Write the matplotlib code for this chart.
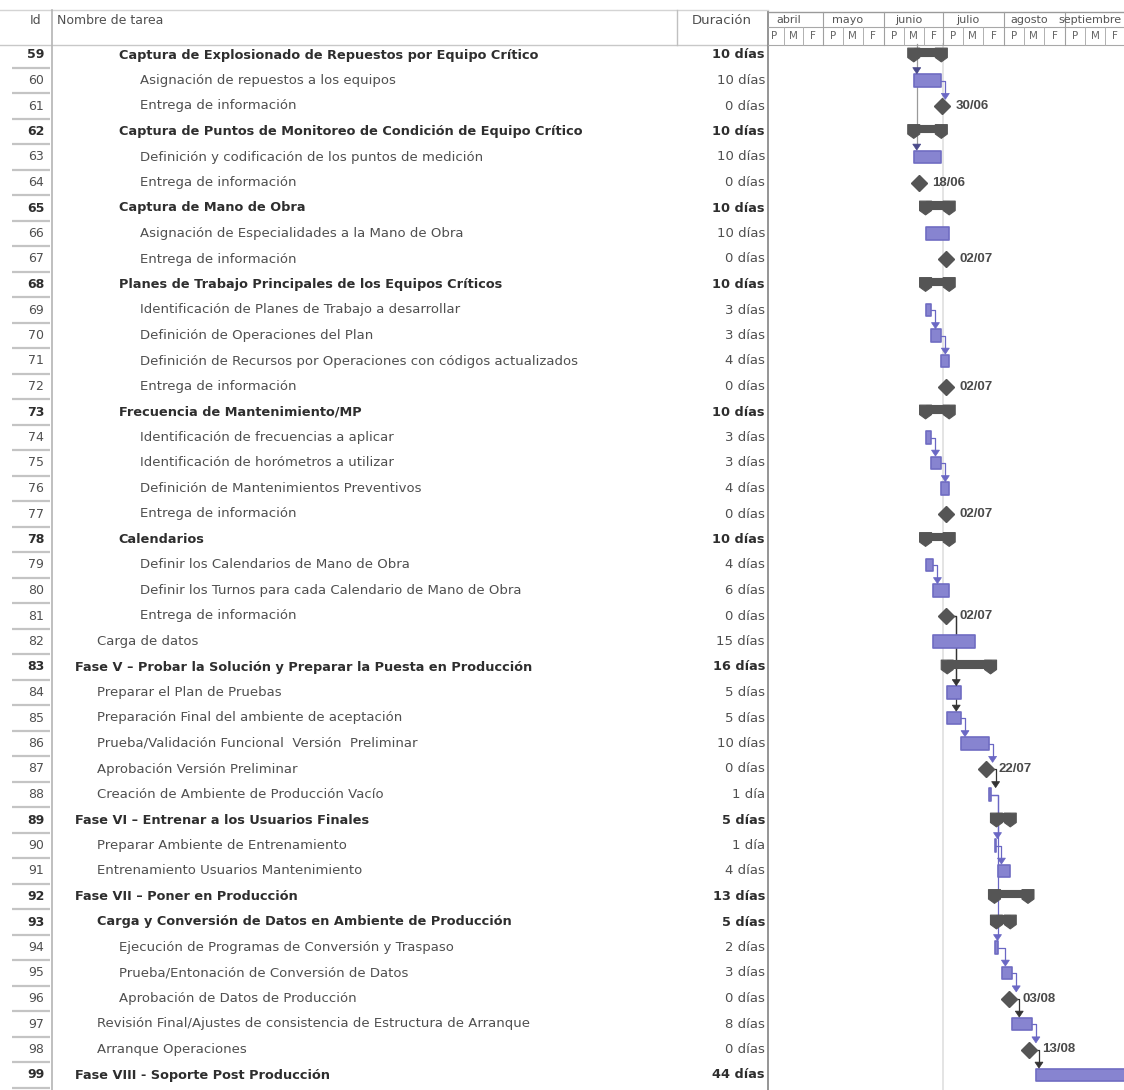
import datetime as dt
import numpy as np
import matplotlib
matplotlib.use("Agg")
import matplotlib.pyplot as plt
import matplotlib.dates as mdates
from matplotlib.patches import Polygon, Rectangle
from matplotlib.transforms import blended_transform_factory

plt.rcParams['font.family'] = ['DejaVu Sans']

# ---------------------------------------------------------------- data
task_ids = list(range(59, 100))
task_names = [
    "Captura de Explosionado de Repuestos por Equipo Crítico",
    "Asignación de repuestos a los equipos",
    "Entrega de información",
    "Captura de Puntos de Monitoreo de Condición de Equipo Crítico",
    "Definición y codificación de los puntos de medición",
    "Entrega de información",
    "Captura de Mano de Obra",
    "Asignación de Especialidades a la Mano de Obra",
    "Entrega de información",
    "Planes de Trabajo Principales de los Equipos Críticos",
    "Identificación de Planes de Trabajo a desarrollar",
    "Definición de Operaciones del Plan",
    "Definición de Recursos por Operaciones con códigos actualizados",
    "Entrega de información",
    "Frecuencia de Mantenimiento/MP",
    "Identificación de frecuencias a aplicar",
    "Identificación de horómetros a utilizar",
    "Definición de Mantenimientos Preventivos",
    "Entrega de información",
    "Calendarios",
    "Definir los Calendarios de Mano de Obra",
    "Definir los Turnos para cada Calendario de Mano de Obra",
    "Entrega de información",
    "Carga de datos",
    "Fase V – Probar la Solución y Preparar la Puesta en Producción",
    "Preparar el Plan de Pruebas",
    "Preparación Final del ambiente de aceptación",
    "Prueba/Validación Funcional  Versión  Preliminar",
    "Aprobación Versión Preliminar",
    "Creación de Ambiente de Producción Vacío",
    "Fase VI – Entrenar a los Usuarios Finales",
    "Preparar Ambiente de Entrenamiento",
    "Entrenamiento Usuarios Mantenimiento",
    "Fase VII – Poner en Producción",
    "Carga y Conversión de Datos en Ambiente de Producción",
    "Ejecución de Programas de Conversión y Traspaso",
    "Prueba/Entonación de Conversión de Datos",
    "Aprobación de Datos de Producción",
    "Revisión Final/Ajustes de consistencia de Estructura de Arranque",
    "Arranque Operaciones",
    "Fase VIII - Soporte Post Producción",
]
outline_level = [3, 4, 4, 3, 4, 4, 3, 4, 4, 3, 4, 4, 4, 4, 3, 4, 4, 4, 4, 3,
                 4, 4, 4, 2, 1, 2, 2, 2, 2, 2, 1, 2, 2, 1, 2, 3, 3, 3, 2, 2, 1]
bold_rows = [59, 62, 65, 68, 73, 78, 83, 89, 92, 93, 99]
duration_days = [10, 10, 0, 10, 10, 0, 10, 10, 0, 10, 3, 3, 4, 0, 10, 3, 3, 4, 0, 10,
                 4, 6, 0, 15, 16, 5, 5, 10, 0, 1, 5, 1, 4, 13, 5, 2, 3, 0, 8, 0, 44]
task_kind = ["sum", "task", "mile", "sum", "task", "mile", "sum", "task", "mile", "sum",
             "task", "task", "task", "mile", "sum", "task", "task", "task", "mile", "sum",
             "task", "task", "mile", "task", "sum", "task", "task", "task", "mile", "task",
             "sum", "task", "task", "sum", "sum", "task", "task", "mile", "task", "mile",
             "task"]
start_dates = [
    "2009-06-16", "2009-06-16", "2009-06-30", "2009-06-16", "2009-06-16", "2009-06-18",
    "2009-06-22", "2009-06-22", "2009-07-02", "2009-06-22", "2009-06-22", "2009-06-25",
    "2009-06-30", "2009-07-02", "2009-06-22", "2009-06-22", "2009-06-25", "2009-06-30",
    "2009-07-02", "2009-06-22", "2009-06-22", "2009-06-26", "2009-07-02", "2009-06-26",
    "2009-07-03", "2009-07-03", "2009-07-03", "2009-07-10", "2009-07-22", "2009-07-24",
    "2009-07-28", "2009-07-27", "2009-07-29", "2009-07-27", "2009-07-28", "2009-07-27",
    "2009-07-31", "2009-08-03", "2009-08-05", "2009-08-13", "2009-08-17",
]
# finish-to-start dependencies (predecessor id, successor id)
links = [(60, 61), (69, 70), (70, 71), (74, 75), (75, 76), (79, 80),
         (81, 84), (81, 85), (85, 86), (86, 87), (87, 88), (88, 90), (90, 91),
         (88, 94), (94, 95), (95, 96), (96, 97), (97, 98), (98, 99)]
# successors whose predecessor sits above the listed rows
external_pred = [60, 63]
month_names = ["abril", "mayo", "junio", "julio", "agosto", "septiembre"]
month_starts = ["2009-04-01", "2009-05-01", "2009-06-01", "2009-07-01",
                "2009-08-01", "2009-09-01", "2009-10-01"]
third_labels = ["P", "M", "F"]
status_date = "2009-07-01"

# ---------------------------------------------------------------- layout
W, H = 1124, 1090
ROW0, ROW_H = 55.0, 25.5
G_LEFT, G_TOP = 768, 10
ID_X, DUR_X = 36, 765
NAME_X0, INDENT = 75, 21.8
FS_REG, FS_BOLD = 9.5, 9.3

C_TEXT = "#4f4f4f"
C_BOLD = "#2e2e2e"
C_GRID = "#c4c4c4"
C_TASK = "#8784d0"
C_TASK_EDGE = "#6f6cc2"
C_SUM = "#555555"
C_MILE = "#555555"
C_LINK = "#6a67c4"

fig = plt.figure(figsize=(W / 100, H / 100), dpi=100)
ax = fig.add_axes([0, 0, 1, 1])
ax.set_xlim(0, W)
ax.set_ylim(H, 0)
ax.axis("off")

n = len(task_ids)
row_of = {tid: i for i, tid in enumerate(task_ids)}


def ypx(i):
    return ROW0 + ROW_H * i


# ---------------------------------------------------------------- table
ax.plot([0, G_LEFT], [10, 10], color="#d4d4d4", lw=1)
ax.plot([0, G_LEFT], [45, 45], color="#c8c8c8", lw=1)
ax.plot([52, 52], [10, H], color="#b4b4b4", lw=1.2)
ax.plot([677, 677], [10, 45], color="#c0c0c0", lw=1)
for k in range(n):
    yb = ypx(k) + ROW_H / 2
    ax.plot([12, 50], [yb, yb], color=C_GRID, lw=1.6, solid_capstyle="butt")

ax.text(ID_X, 20, "Id", ha="center", va="center", fontsize=9, color=C_TEXT)
ax.text(57, 20, "Nombre de tarea", ha="left", va="center", fontsize=9, color=C_TEXT)
ax.text(722, 20, "Duración", ha="center", va="center", fontsize=9.5, color=C_TEXT)

for i, tid in enumerate(task_ids):
    bold = tid in bold_rows
    weight = "bold" if bold else "normal"
    col = C_BOLD if bold else C_TEXT
    fs = FS_BOLD if bold else FS_REG
    y = ypx(i)
    ax.text(ID_X, y, str(tid), ha="center", va="center", fontsize=9,
            fontweight=weight, color=col)
    ax.text(NAME_X0 + INDENT * (outline_level[i] - 1), y, task_names[i],
            ha="left", va="center", fontsize=fs, fontweight=weight, color=col)
    d = duration_days[i]
    ax.text(DUR_X, y, f"{d} día" if d == 1 else f"{d} días", ha="right",
            va="center", fontsize=fs, fontweight=weight, color=col)

# ---------------------------------------------------------------- gantt axes
axg = fig.add_axes([G_LEFT / W, 0, (W - G_LEFT) / W, (H - G_TOP) / H])
axg.set_facecolor("none")
for s in axg.spines.values():
    s.set_visible(False)
axg.set_xticks([])
axg.set_yticks([])

x_left = mdates.date2num(dt.datetime(2009, 4, 3))
x_right = mdates.date2num(dt.datetime(2009, 9, 30, 18))
axg.set_xlim(x_left, x_right)
axg.set_ylim((H - ROW0) / ROW_H, (G_TOP - ROW0) / ROW_H)

DPX = (x_right - x_left) / (W - G_LEFT)   # days per pixel
RPX = 1.0 / ROW_H                         # rows per pixel

hdr = blended_transform_factory(axg.transData, ax.transData)

# timescale header
axg.plot([x_left, x_right], [12, 12], color="#9a9a9a", lw=1, transform=hdr)
axg.plot([x_left, x_right], [27, 27], color="#a8a8a8", lw=0.8, transform=hdr)
axg.plot([x_left, x_right], [45, 45], color="#a8a8a8", lw=0.8, transform=hdr)
ms = [mdates.date2num(dt.datetime.strptime(s, "%Y-%m-%d")) for s in month_starts]
for m, name in enumerate(month_names):
    a, b = ms[m], ms[m + 1]
    if a > x_left:
        axg.plot([a, a], [12, 45], color="#a0a0a0", lw=0.8, transform=hdr)
    axg.text(a + 12.5, 20, name, ha="center", va="center", fontsize=8,
             color="#555555", transform=hdr, clip_on=True)
    edges = [a, a + 10, a + 20, b]
    for t in range(3):
        if t > 0:
            axg.plot([edges[t], edges[t]], [27, 45], color="#b0b0b0", lw=0.7,
                     transform=hdr)
        cx = (edges[t] + edges[t + 1]) / 2
        if x_left < cx < x_right:
            axg.text(cx, 36, third_labels[t], ha="center", va="center",
                     fontsize=7.5, color="#666666", transform=hdr, clip_on=True)

ax.plot([G_LEFT, G_LEFT], [12, H], color="#8c8c8c", lw=1.3)

# status date line
sd = mdates.date2num(dt.datetime.strptime(status_date, "%Y-%m-%d"))
axg.plot([sd, sd], [-0.45, n], color="#e4e4e4", lw=1.4, zorder=1)

# ---------------------------------------------------------------- bars
starts = np.array(start_dates, dtype="datetime64[D]")
x_start, x_end, x_mark = [], [], []
for i in range(n):
    s = starts[i]
    d = duration_days[i]
    xs = mdates.date2num(s.astype(dt.datetime))
    if d > 0:
        e = np.busday_offset(s, d - 1, roll="forward") + np.timedelta64(1, "D")
        xe = mdates.date2num(e.astype(dt.datetime))
    else:
        xe = xs + 0.5
    x_start.append(xs)
    x_end.append(xe)
    x_mark.append(xs + 0.5)

CAP = 6 * DPX
for i in range(n):
    kind = task_kind[i]
    if kind == "task":
        axg.add_patch(Rectangle((x_start[i], i - 0.25), x_end[i] - x_start[i], 0.5,
                                facecolor=C_TASK, edgecolor=C_TASK_EDGE, lw=1.2,
                                joinstyle="round", zorder=4))
    elif kind == "sum":
        x0, x1 = x_start[i], x_end[i]
        top, bot = i - 0.27, i + 0.02
        axg.add_patch(Rectangle((x0, top), x1 - x0, bot - top, facecolor=C_SUM,
                                edgecolor=C_SUM, lw=0.8, zorder=4))
        for xc in (x0, x1):
            axg.add_patch(Polygon([(xc - CAP, top), (xc + CAP, top),
                                   (xc + CAP, i + 0.1), (xc, i + 0.27),
                                   (xc - CAP, i + 0.1)], closed=True,
                                  facecolor=C_SUM, edgecolor=C_SUM, lw=0.8,
                                  joinstyle="round", zorder=4))
    else:
        axg.plot(x_mark[i], i, marker="D", markersize=8.5, color=C_MILE,
                 markeredgecolor=C_MILE, zorder=5)
        label = starts[i].astype(dt.datetime).strftime("%d/%m")
        axg.text(x_mark[i] + 13 * DPX, i, label, ha="left", va="center",
                 fontsize=9.5, fontweight="bold", color="#4a4a4a", zorder=5,
                 family="Liberation Sans")


def top_of(j):
    return {"task": 0.27, "sum": 0.29, "mile": 0.26}[task_kind[j]]


def arrowhead(x, ytip, color):
    axg.add_patch(Polygon([(x - 4 * DPX, ytip - 6 * RPX), (x + 4 * DPX, ytip - 6 * RPX),
                           (x, ytip)], closed=True, facecolor=color,
                          edgecolor=color, lw=0.5, zorder=6))


# dependency links
for p, q in links:
    i, j = row_of[p], row_of[q]
    col = C_LINK if task_kind[i] == "task" else "#333333"
    if task_kind[i] == "mile":
        x0 = x_mark[i] + 6 * DPX
    else:
        x0 = x_end[i]
    xq = x_mark[j] if task_kind[j] == "mile" else x_start[j]
    xa = max(x0 + 4 * DPX, xq + 3 * DPX)
    ytip = j - top_of(j)
    axg.plot([x0, xa, xa], [i, i, ytip - 5 * RPX], color=col, lw=0.9, zorder=3)
    arrowhead(xa, ytip, col)

# links arriving from predecessors above the shown rows
xe_line = x_start[row_of[external_pred[0]]] + 3 * DPX
last = max(row_of[t] for t in external_pred)
axg.plot([xe_line, xe_line], [-0.45, last - top_of(last) - 5 * RPX],
         color="#9a9a9a", lw=0.9, zorder=3)
for t in external_pred:
    j = row_of[t]
    arrowhead(xe_line, j - top_of(j), "#4a4a8a")

fig.savefig("out.png", dpi=100)
